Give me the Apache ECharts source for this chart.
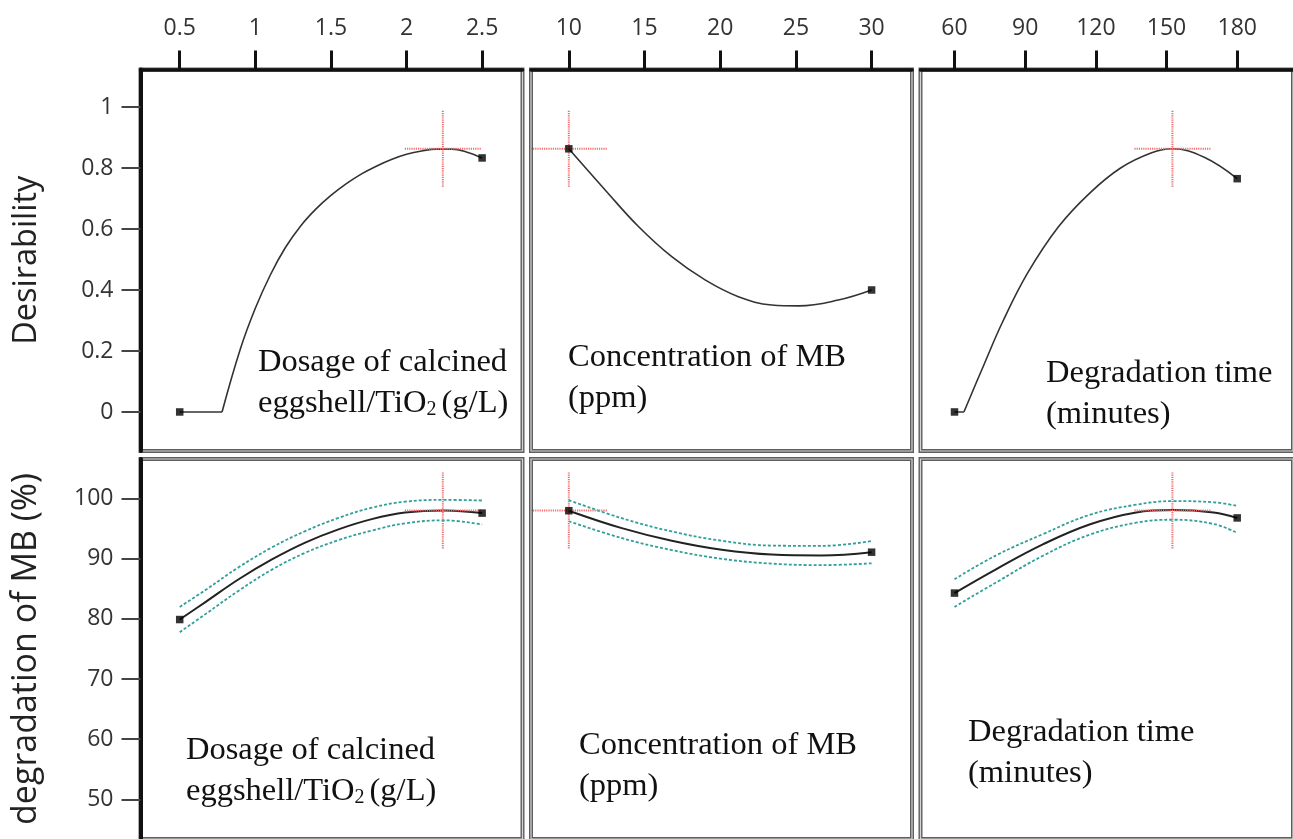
<!DOCTYPE html>
<html>
<head>
<meta charset="utf-8">
<script src="https://cdn.jsdelivr.net/npm/echarts@6/dist/echarts.min.js"></script>
<style>
html,body{margin:0;padding:0;background:#fff;}
#chart{width:1293px;height:839px;}
</style>
</head>
<body>
<div id="chart"></div>
<script>
// ---------- tick labels ----------
const dosageTicks = [0.5, 1, 1.5, 2, 2.5];
const concTicks = [10, 15, 20, 25, 30];
const timeTicks = [60, 90, 120, 150, 180];
const desirTicks = [0, 0.2, 0.4, 0.6, 0.8, 1];
const degTicks = [50, 60, 70, 80, 90, 100];

// ---------- desirability curves ----------
const desDosageFlatX = [0.5, 0.78];
const desDosageFlatY = [0, 0];
const desDosageX = [0.78, 0.9, 1.0, 1.1, 1.2, 1.3, 1.4, 1.5, 1.6, 1.7, 1.8, 1.9, 2.0, 2.1, 2.2, 2.3, 2.4, 2.5];
const desDosageY = [0, 0.205, 0.34, 0.45, 0.54, 0.61, 0.665, 0.71, 0.748, 0.78, 0.806, 0.828, 0.845, 0.856, 0.862, 0.862, 0.852, 0.833];

const desConcX = [10, 12.4, 14.6, 16.8, 19.0, 21.2, 23.4, 25.2, 27.8, 30];
const desConcY = [0.863, 0.728, 0.608, 0.509, 0.433, 0.378, 0.351, 0.348, 0.367, 0.40];

const desTimeFlatX = [60, 64];
const desTimeFlatY = [0, 0];
const desTimeX = [64, 72.5, 80.4, 91, 104.2, 117.3, 130.5, 143.7, 152.5, 166, 180];
const desTimeY = [0, 0.155, 0.295, 0.455, 0.608, 0.717, 0.800, 0.850, 0.863, 0.835, 0.765];

// ---------- degradation curves (fit, upper/lower interval) ----------
const degDosageX = [0.5, 0.67, 0.89, 1.11, 1.33, 1.55, 1.77, 1.99, 2.25, 2.5];
const degDosageY = [79.9, 82.8, 86.6, 89.9, 92.7, 94.9, 96.6, 97.7, 98.05, 97.6];
const degDosageHi = [82.0, 84.8, 88.6, 91.9, 94.6, 96.8, 98.5, 99.5, 99.8, 99.7];
const degDosageLo = [77.8, 80.8, 84.7, 88.2, 91.0, 93.1, 94.7, 95.9, 96.4, 95.7];

const degConcX = [10, 13.5, 16.8, 20.1, 23.4, 26.7, 30];
const degConcY = [98.0, 95.1, 93.0, 91.5, 90.7, 90.55, 91.1];
const degConcHi = [99.75, 96.75, 94.55, 93.0, 92.2, 92.15, 92.95];
const degConcLo = [96.25, 93.45, 91.45, 90.0, 89.2, 88.95, 89.25];

const degTimeX = [60, 77.8, 97.5, 117.3, 137.1, 152.5, 170, 180];
const degTimeY = [84.3, 88.3, 92.4, 95.7, 97.7, 98.1, 97.7, 96.8];
const degTimeHi = [86.6, 90.6, 94.1, 97.3, 99.0, 99.6, 99.4, 98.8];
const degTimeLo = [82.0, 86.1, 90.5, 94.0, 96.0, 96.5, 95.8, 94.3];

// ---------- optimum setting ----------
const optFactors = [2.24, 10, 152.5];
const optDesirability = 0.863;
const optDegradation = 98.05;

// ---------- texts ----------
const factorLine1 = ['Dosage of calcined', 'Concentration of MB', 'Degradation time'];
const factorLine2 = ['eggshell/TiO{sub|2}(g/L)', '(ppm)', '(minutes)'];
const responseNames = ['Desirability', 'degradation of MB (%)'];

// ---------- layout (pixels / axis ranges) ----------
const colLayout = [
  {left: 140.5, width: 382, min: 0.2407, max: 2.767, ticks: dosageTicks},
  {left: 531, width: 381, min: 7.503, max: 32.668, ticks: concTicks},
  {left: 920.5, width: 400, min: 45.57, max: 203.68, ticks: timeTicks}
];
const rowLayout = [
  {top: 69.5, height: 381.5, min: -0.128, max: 1.123, ticks: desirTicks, nameSize: 32.5},
  {top: 459, height: 383, min: 43.4, max: 106.6, ticks: degTicks, nameSize: 34}
];
const textPos = [
  [[258, 362], [258, 403]],
  [[568, 357], [568, 398]],
  [[1046, 373], [1046, 414]],
  [[186, 750], [186, 791]],
  [[579, 745], [579, 786]],
  [[968, 732], [968, 773]]
];

const pairs = (xs, ys) => xs.map((x, i) => [x, ys[i]]);

const desCurves = [
  {flat: pairs(desDosageFlatX, desDosageFlatY), curve: pairs(desDosageX, desDosageY)},
  {flat: null, curve: pairs(desConcX, desConcY)},
  {flat: pairs(desTimeFlatX, desTimeFlatY), curve: pairs(desTimeX, desTimeY)}
];
const degCurves = [
  {fit: pairs(degDosageX, degDosageY), hi: pairs(degDosageX, degDosageHi), lo: pairs(degDosageX, degDosageLo)},
  {fit: pairs(degConcX, degConcY), hi: pairs(degConcX, degConcHi), lo: pairs(degConcX, degConcLo)},
  {fit: pairs(degTimeX, degTimeY), hi: pairs(degTimeX, degTimeHi), lo: pairs(degTimeX, degTimeLo)}
];

const tickFont = {fontFamily: 'Open Sans', fontSize: 23, color: '#333'};
const RED = '#f26d6d';
const TEAL = '#2f9f9a';

const grids = [], overlayGrids = [], xAxes = [], yAxes = [], series = [];

function crossSeries(idx, cx, cy) {
  return {
    type: 'custom', xAxisIndex: idx, yAxisIndex: idx, clip: true, z: 5,
    data: [[cx, cy]],
    renderItem: function (params, api) {
      const p = api.coord([api.value(0), api.value(1)]);
      const st = {stroke: RED, lineWidth: 2, lineDash: [1.2, 1]};
      return {type: 'group', children: [
        {type: 'line', shape: {x1: p[0] - 38, y1: p[1], x2: p[0] + 38, y2: p[1]}, style: st},
        {type: 'line', shape: {x1: p[0], y1: p[1] - 38, x2: p[0], y2: p[1] + 38}, style: st}
      ]};
    }
  };
}

rowLayout.forEach((r, ri) => {
  colLayout.forEach((c, ci) => {
    const idx = ri * 3 + ci;
    grids.push({
      left: c.left, top: r.top, width: c.width, height: r.height, z: 0,
      show: true, borderColor: '#5e5e5e', borderWidth: 4, backgroundColor: 'transparent'
    });
    overlayGrids.push({
      left: c.left, top: r.top, width: c.width, height: r.height, z: 1,
      show: true, borderColor: '#d4d4d4', borderWidth: 1.2, backgroundColor: 'transparent'
    });
    xAxes.push({
      type: 'value', gridIndex: idx, position: 'top', min: c.min, max: c.max, z: 3,
      show: ri === 0,
      splitLine: {show: false},
      axisLine: {show: true, onZero: false, lineStyle: {color: '#111', width: 3.5}},
      axisTick: {show: true, inside: false, length: 19, customValues: c.ticks, lineStyle: {color: '#111', width: 3}},
      axisLabel: Object.assign({show: true, margin: 30, customValues: c.ticks}, tickFont)
    });
    yAxes.push({
      type: 'value', gridIndex: idx, position: 'left', min: r.min, max: r.max, z: 3,
      show: ci === 0,
      name: ci === 0 ? responseNames[ri] : '',
      nameLocation: 'middle', nameGap: 97,
      nameTextStyle: {fontFamily: 'Open Sans', fontSize: r.nameSize, color: '#222'},
      splitLine: {show: false},
      axisLine: {show: true, onZero: false, lineStyle: {color: '#111', width: 4}},
      axisTick: {show: true, inside: false, length: 19, customValues: r.ticks, lineStyle: {color: '#444', width: 2}},
      axisLabel: Object.assign({show: true, margin: 27, customValues: r.ticks}, tickFont)
    });

    if (ri === 0) {
      const d = desCurves[ci];
      if (d.flat) {
        series.push({type: 'line', xAxisIndex: idx, yAxisIndex: idx, data: d.flat, showSymbol: false,
          lineStyle: {color: '#333', width: 1.6}, z: 3});
      }
      series.push({type: 'line', xAxisIndex: idx, yAxisIndex: idx, data: d.curve, smooth: 0.4, showSymbol: false,
        lineStyle: {color: '#333', width: 1.6}, z: 3});
      const all = (d.flat || []).concat(d.curve);
      series.push({type: 'scatter', xAxisIndex: idx, yAxisIndex: idx, symbol: 'rect', symbolSize: 7.5,
        itemStyle: {color: '#000'}, data: [all[0], all[all.length - 1]], z: 6});
      series.push(crossSeries(idx, optFactors[ci], optDesirability));
    } else {
      const d = degCurves[ci];
      ['hi', 'lo'].forEach(k => {
        series.push({type: 'line', xAxisIndex: idx, yAxisIndex: idx, data: d[k], smooth: 0.4, showSymbol: false,
          lineStyle: {color: TEAL, width: 1.8, type: [3, 2]}, z: 2});
      });
      series.push({type: 'line', xAxisIndex: idx, yAxisIndex: idx, data: d.fit, smooth: 0.4, showSymbol: false,
        lineStyle: {color: '#222', width: 2}, z: 3});
      series.push({type: 'scatter', xAxisIndex: idx, yAxisIndex: idx, symbol: 'rect', symbolSize: 7.5,
        itemStyle: {color: '#000'}, data: [d.fit[0], d.fit[d.fit.length - 1]], z: 6});
      series.push(crossSeries(idx, optFactors[ci], optDegradation));
    }
  });
});

const serif = 'Liberation Serif';
const graphics = [];
for (let p = 0; p < 6; p++) {
  const ci = p % 3;
  const pos = textPos[p];
  graphics.push({type: 'text', x: pos[0][0], y: pos[0][1], z: 10,
    style: {text: factorLine1[ci], fontFamily: serif, fontSize: 32.5, fill: '#111', verticalAlign: 'middle', align: 'left'}});
  graphics.push({type: 'text', x: pos[1][0], y: pos[1][1], z: 10,
    style: {text: factorLine2[ci], fontFamily: serif, fontSize: 32.5, fill: '#111', verticalAlign: 'middle', align: 'left',
      rich: {sub: {fontFamily: serif, fontSize: 20, fill: '#111', verticalAlign: 'bottom', padding: [0, 5, 0, 0]}}}});
}

const chart = echarts.init(document.getElementById('chart'), null, {renderer: 'canvas'});
chart.setOption({
  backgroundColor: '#fff',
  animation: false,
  grid: grids.concat(overlayGrids),
  xAxis: xAxes,
  yAxis: yAxes,
  series: series,
  graphic: graphics
});
</script>
</body>
</html>
